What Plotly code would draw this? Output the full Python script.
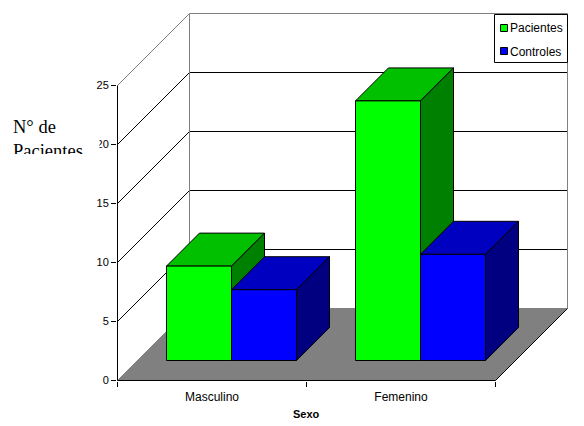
import plotly.graph_objects as go

categories = ["Masculino", "Femenino"]
pacientes = [8, 22]
controles = [6, 9]
y_ticks = [0, 5, 10, 15, 20, 25]
y_top = 25

W, H = 584, 426
L, R_PX, T, B_PX = 117.5, 495.5, 85.5, 380.5
EDGE_L, EDGE_R, EDGE_T, EDGE_B = 117, 568, 13, 381
n = len(categories)
ux = (R_PX - L) / n          # px per category
uy = (B_PX - T) / y_top      # px per value unit
DEPTH_PX = 72
dx = DEPTH_PX / ux
dy = DEPTH_PX / uy


def proj(x, v, z):
    """Oblique projection of (category pos, value, depth 0..1) to axis coordinates."""
    return x + z * dx, v + z * dy


def poly(corners):
    pts = [proj(*c) for c in corners]
    pts.append(pts[0])
    return [p[0] for p in pts], [p[1] for p in pts]


fig = go.Figure()


def face(corners, fill, line="#000000", width=1):
    xs, ys = poly(corners)
    fig.add_trace(go.Scatter(x=xs, y=ys, mode="lines", fill="toself", fillcolor=fill,
                             line=dict(color=line, width=width), cliponaxis=False,
                             hoverinfo="skip", showlegend=False))


def path(corners, color, width=1):
    pts = [proj(*c) for c in corners]
    fig.add_trace(go.Scatter(x=[p[0] for p in pts], y=[p[1] for p in pts], mode="lines",
                             line=dict(color=color, width=width), cliponaxis=False,
                             hoverinfo="skip", showlegend=False))


# floor
face([(0, 0, 0), (n, 0, 0), (n, 0, 1), (0, 0, 1)], "#808080", line="#808080")
path([(n, 0, 0), (n, 0, 1)], "#000000")

# walls
for v in y_ticks[1:-1]:
    path([(0, v, 0), (0, v, 1), (n, v, 1)], "#000000")
path([(0, y_top, 0), (0, y_top, 1)], "#808080")
path([(0, 0, 1), (0, y_top, 1), (n, y_top, 1), (n, 0, 1)], "#808080")

# front axis lines
path([(0, 0, 0), (0, y_top, 0)], "#000000")
path([(0, 0, 0), (n, 0, 0)], "#000000")

# bars
BAR_START = 0.1534
BAR_W = 0.344
Z0, Z1 = 0.2778, 0.736


def box(x0, x1, v, front, top, side):
    face([(x0, v, Z0), (x0, v, Z1), (x1, v, Z1), (x1, v, Z0)], top)
    face([(x1, 0, Z0), (x1, 0, Z1), (x1, v, Z1), (x1, v, Z0)], side)
    face([(x0, 0, Z0), (x1, 0, Z0), (x1, v, Z0), (x0, v, Z0)], front)


for i in range(n):
    g0 = i + BAR_START
    box(g0, g0 + BAR_W, pacientes[i], "#00FF00", "#00C000", "#008000")
    box(g0 + BAR_W, g0 + 2 * BAR_W, controles[i], "#0000FF", "#0000C0", "#000080")


def px(x):
    return (x - EDGE_L) / (EDGE_R - EDGE_L)


def py(y):
    return (EDGE_B - y) / (EDGE_B - EDGE_T)


shapes = [
    dict(type="rect", xref="paper", yref="paper", x0=px(494.5), x1=px(567.5), y0=py(62.5), y1=py(14.5),
         fillcolor="#FFFFFF", line=dict(color="#000000", width=1), layer="above"),
    dict(type="rect", xref="paper", yref="paper", x0=px(500.5), x1=px(507.5), y0=py(31.5), y1=py(24.5),
         fillcolor="#00FF00", line=dict(color="#000000", width=1), layer="above"),
    dict(type="rect", xref="paper", yref="paper", x0=px(500.5), x1=px(507.5), y0=py(54.5), y1=py(47.5),
         fillcolor="#0000FF", line=dict(color="#000000", width=1), layer="above"),
]

annotations = [
    dict(text="N° de<br>Pacientes", xref="paper", yref="paper", x=px(12), y=py(116),
         xanchor="left", yanchor="top", width=86, height=37, align="left", valign="top",
         showarrow=False, bgcolor="#FFFFFF", borderpad=0,
         font=dict(family="Liberation Serif", size=18.5, color="#000000")),
    dict(text="Pacientes", xref="paper", yref="paper", x=px(509), y=py(28),
         xanchor="left", yanchor="middle", showarrow=False, borderpad=0,
         font=dict(family="Liberation Sans", size=12, color="#000000")),
    dict(text="Controles", xref="paper", yref="paper", x=px(509), y=py(52),
         xanchor="left", yanchor="middle", showarrow=False, borderpad=0,
         font=dict(family="Liberation Sans", size=12, color="#000000")),
    dict(text="<b>Sexo</b>", xref="paper", yref="paper", x=px(306.7), y=py(414),
         xanchor="center", yanchor="middle", showarrow=False, borderpad=0,
         font=dict(family="Liberation Sans", size=11, color="#000000")),
]

fig.update_layout(
    width=W, height=H,
    margin=dict(l=EDGE_L, r=W - EDGE_R, t=EDGE_T, b=H - EDGE_B, pad=0),
    paper_bgcolor="#FFFFFF", plot_bgcolor="rgba(0,0,0,0)",
    showlegend=False, shapes=shapes, annotations=annotations,
    font=dict(family="Liberation Sans", color="#000000"),
    xaxis=dict(range=[(EDGE_L - L) / ux, (EDGE_R - L) / ux], tickmode="array",
               tickvals=[i + 0.5 for i in range(n)],
               ticktext=categories, ticks="", showgrid=False, zeroline=False,
               showline=False, ticklabelstandoff=7,
               tickfont=dict(size=12, color="#000000"),
               minor=dict(tickmode="array", tickvals=list(range(n + 1)), ticks="outside",
                          ticklen=5, tickcolor="#000000", tickwidth=1, showgrid=False)),
    yaxis=dict(range=[(B_PX - EDGE_B) / uy, (B_PX - EDGE_T) / uy], tickmode="array",
               tickvals=y_ticks,
               ticks="outside", ticklen=5, tickcolor="#000000", tickwidth=1,
               showgrid=False, zeroline=False, showline=False,
               tickfont=dict(size=11, color="#000000")),
)

fig.write_html("out.html", config={"displayModeBar": False},
               post_script="document.body.style.margin='0';document.body.style.overflow='hidden';")
